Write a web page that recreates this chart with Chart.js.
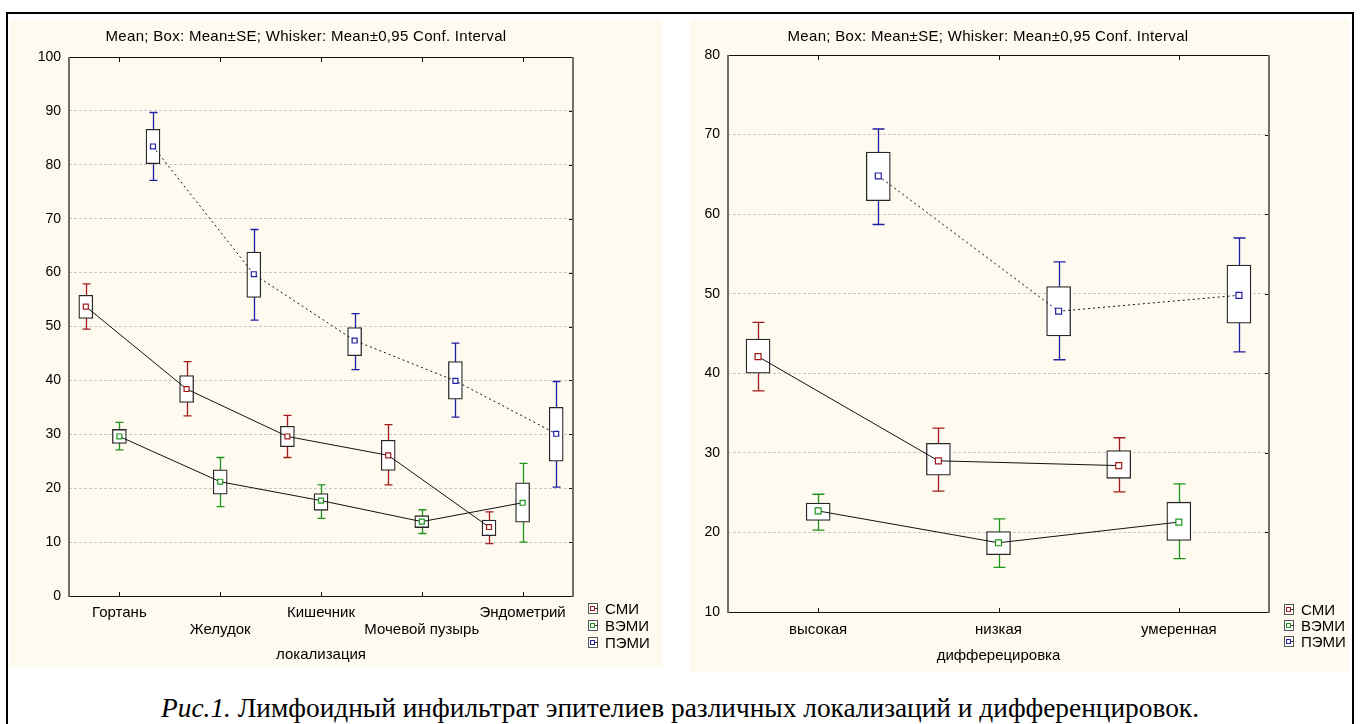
<!DOCTYPE html>
<html><head><meta charset="utf-8">
<script src="https://cdn.jsdelivr.net/npm/chart.js@4.4.1/dist/chart.umd.min.js"></script>
<style>
html,body{margin:0;padding:0;background:#fff;}
body{width:1360px;height:724px;overflow:hidden;position:relative;font-family:"Liberation Sans",Arial,sans-serif;color:#000;}
#outer{position:absolute;left:6px;top:12px;width:1348px;height:740px;border:2px solid #000;box-sizing:border-box;}
.panel{position:absolute;background:#FFFAEF;}
#pl{left:10px;top:19px;width:652px;height:648px;}
#pr{left:690px;top:19px;width:659px;height:654px;}
.panel canvas{position:absolute;left:0;top:0;}
.ttl{position:absolute;font-size:15px;letter-spacing:0.3px;white-space:nowrap;transform:translate(-50%,-50%);}
.lg{position:absolute;font-size:15px;white-space:nowrap;height:17px;line-height:17px;}
.lg .ic{position:absolute;left:0;top:3px;width:10px;height:11px;border:1px solid #555;box-sizing:border-box;background:#fff;}
.lg .ic i{position:absolute;left:1px;top:2px;width:5px;height:5px;border:1px solid;box-sizing:border-box;}
.lg .ic b{position:absolute;left:6px;top:4px;width:3px;height:1px;background:#333;}
.lg span{position:absolute;left:17px;top:0;}
#cap{position:absolute;top:694px;left:0;font-family:"Liberation Serif","Times New Roman",serif;font-size:28px;line-height:28px;white-space:nowrap;transform-origin:0 50%;}
</style>
</head><body>
<div id="outer"></div>
<div class="panel" id="pl"><canvas id="cl" width="652" height="648"></canvas></div>
<div class="panel" id="pr"><canvas id="cr" width="659" height="654"></canvas></div>
<div class="ttl" style="left:306px;top:35px;">Mean; Box: Mean±SE; Whisker: Mean±0,95 Conf. Interval</div>
<div class="ttl" style="left:988px;top:35px;">Mean; Box: Mean±SE; Whisker: Mean±0,95 Conf. Interval</div>
<div id="legL"></div>
<div id="legR"></div>
<div id="cap"><i>Рис.1.</i> Лимфоидный инфильтрат эпителиев различных локализаций и дифференцировок.</div>
<script>
// ---------- DATA ----------
const seriesNames = ['СМИ', 'ВЭМИ', 'ПЭМИ'];

// Left chart: локализация
const locCategories = ['Гортань', 'Желудок', 'Кишечник', 'Мочевой пузырь', 'Эндометрий'];
const locSmiMean = [53.7, 38.4, 29.6, 26.1, 12.8];
const locSmiBox  = [[51.5, 55.8], [35.9, 40.9], [27.7, 31.5], [23.3, 28.9], [11.2, 14.1]];
const locSmiCI   = [[49.5, 57.9], [33.4, 43.5], [25.7, 33.5], [20.6, 31.8], [9.7, 15.6]];
const locVemiMean = [29.6, 21.2, 17.7, 13.8, 17.3];
const locVemiBox  = [[28.3, 30.9], [18.9, 23.4], [15.9, 19.0], [12.7, 14.9], [13.7, 21.0]];
const locVemiCI   = [[27.1, 32.2], [16.6, 25.7], [14.4, 20.6], [11.6, 16.0], [10.0, 24.6]];
const locPemiMean = [83.4, 59.7, 47.4, 39.9, 30.1];
const locPemiBox  = [[80.2, 86.6], [55.4, 63.8], [44.6, 49.8], [36.5, 43.5], [25.0, 35.0]];
const locPemiCI   = [[77.1, 89.7], [51.2, 68.0], [42.0, 52.4], [33.2, 46.9], [20.2, 39.8]];
const locYTicks = [0, 100, 10];

// Right chart: дифферецировка
const difCategories = ['высокая', 'низкая', 'умеренная'];
const difSmiMean = [42.1, 29.0, 28.4];
const difSmiBox  = [[40.0, 44.3], [27.2, 31.2], [26.8, 30.3]];
const difSmiCI   = [[37.8, 46.4], [25.2, 33.1], [25.1, 31.9]];
const difVemiMean = [22.7, 18.7, 21.3];
const difVemiBox  = [[21.5, 23.7], [17.2, 20.1], [19.0, 23.8]];
const difVemiCI   = [[20.3, 24.8], [15.6, 21.7], [16.7, 26.1]];
const difPemiMean = [64.8, 47.8, 49.8];
const difPemiBox  = [[61.7, 67.8], [44.7, 50.9], [46.3, 53.6]];
const difPemiCI   = [[58.7, 70.7], [41.7, 54.0], [42.7, 57.0]];
const difYTicks = [10, 80, 10];

// ---------- STYLE ----------
const FONT = '"Liberation Sans", Arial, sans-serif';
const seriesColors = ['#a31a1a', '#1d951d', '#1f1fa3'];

function makeChart(id, o) {
  const n = o.categories.length;
  const slot = s => (s - 1) / 3;   // series position inside a category
  const datasets = [];
  for (let s = 0; s < 3; s++) {
    datasets.push({
      type: 'line', order: 1, label: seriesNames[s] + ' mean',
      data: o.means[s].map((m, i) => ({ x: i + slot(s), y: m })),
      borderColor: '#111', borderWidth: 1, borderDash: s === 2 ? [2, 3] : [],
      tension: 0, fill: false,
      pointStyle: 'rect', pointRadius: o.markR, pointHoverRadius: o.markR,
      pointBorderColor: seriesColors[s], pointBackgroundColor: '#fff', pointBorderWidth: 1.2
    });
  }
  for (let s = 0; s < 3; s++) {
    datasets.push({
      type: 'bar', order: 2, label: seriesNames[s], grouped: false,
      data: o.boxes[s].map((b, i) => ({ x: i + slot(s), y: b })),
      backgroundColor: '#fff', borderColor: '#262626', borderWidth: 1.3,
      borderSkipped: false, barThickness: o.boxW
    });
  }
  const whiskers = {
    id: 'whiskers',
    beforeDatasetsDraw(chart) {
      const ctx = chart.ctx, y = chart.scales.y;
      for (let s = 0; s < 3; s++) {
        const meta = chart.getDatasetMeta(3 + s);
        meta.data.forEach((el, i) => {
          const lo = o.cis[s][i][0], hi = o.cis[s][i][1];
          const x = Math.round(el.x) + 0.5, cw = o.capW;
          const y1 = y.getPixelForValue(lo), y2 = y.getPixelForValue(hi);
          ctx.save();
          ctx.strokeStyle = seriesColors[s]; ctx.lineWidth = 1.3;
          ctx.beginPath();
          ctx.moveTo(x, y1); ctx.lineTo(x, y2);
          ctx.moveTo(x - cw / 2, y1); ctx.lineTo(x + cw / 2, y1);
          ctx.moveTo(x - cw / 2, y2); ctx.lineTo(x + cw / 2, y2);
          ctx.stroke();
          ctx.restore();
        });
      }
    }
  };
  const frame = {
    id: 'frame',
    afterDraw(chart) {
      const ctx = chart.ctx, a = chart.chartArea, xs = chart.scales.x, ys = chart.scales.y;
      ctx.save();
      ctx.strokeStyle = '#111'; ctx.lineWidth = 1;
      ctx.beginPath();
      ctx.moveTo(a.left, a.top + 0.5); ctx.lineTo(a.right, a.top + 0.5);
      ctx.moveTo(a.left, a.bottom + 0.5); ctx.lineTo(a.right, a.bottom + 0.5);
      for (let i = 0; i < n; i++) {
        const px = Math.round(xs.getPixelForValue(i)) + 0.5;
        ctx.moveTo(px, a.top); ctx.lineTo(px, a.top + 5);
        ctx.moveTo(px, a.bottom); ctx.lineTo(px, a.bottom - 4);
      }
      ys.ticks.forEach(t => {
        const py = Math.round(ys.getPixelForValue(t.value)) + 0.5;
        ctx.moveTo(a.right, py); ctx.lineTo(a.right - 4, py);
      });
      ctx.stroke();
      ctx.strokeStyle = '#6f6f6f'; ctx.lineWidth = 2;
      ctx.beginPath();
      ctx.moveTo(a.left, a.top); ctx.lineTo(a.left, a.bottom + 1);
      ctx.moveTo(a.right, a.top); ctx.lineTo(a.right, a.bottom + 1);
      ctx.stroke();
      ctx.restore();
    }
  };
  return new Chart(document.getElementById(id), {
    type: 'line',
    data: { datasets },
    options: {
      responsive: false, animation: false, devicePixelRatio: 1,
      layout: { padding: { left: 0, top: o.padTop, right: o.padRight, bottom: 0 } },
      plugins: { legend: { display: false }, tooltip: { enabled: false }, title: { display: false } },
      scales: {
        x: {
          type: 'linear', min: -0.5, max: n - 0.5, offset: false,
          grid: { display: false, drawTicks: false, offset: false }, border: { display: false },
          afterBuildTicks(scale) { scale.ticks = o.categories.map((c, i) => ({ value: i })); },
          ticks: {
            color: '#000', font: { family: FONT, size: 15, lineHeight: 17 / 15 },
            padding: o.tickPad, autoSkip: false, maxRotation: 0, minRotation: 0,
            callback(v, i) { const l = o.categories[Math.round(v)]; return (o.stagger && i % 2) ? ['', l] : l; }
          },
          title: { display: true, text: o.axisTitle, color: '#000', font: { family: FONT, size: 15, lineHeight: 17 / 15 }, padding: { top: 0, bottom: o.titlePadB } },
          afterFit(s) { s.height = o.xAxisH; }
        },
        y: {
          type: 'linear', min: o.yTicks[0], max: o.yTicks[1],
          ticks: { stepSize: o.yTicks[2], color: '#000', font: { family: FONT, size: 14 }, padding: 8 },
          grid: { color: '#c8c8c8', lineWidth: 1, drawTicks: false },
          border: { display: false, dash: [3, 2] },
          afterFit(s) { s.width = o.yAxisW; }
        }
      }
    },
    plugins: [whiskers, frame]
  });
}

makeChart('cl', {
  categories: locCategories,
  means: [locSmiMean, locVemiMean, locPemiMean],
  boxes: [locSmiBox, locVemiBox, locPemiBox],
  cis: [locSmiCI, locVemiCI, locPemiCI],
  yTicks: locYTicks, axisTitle: 'локализация', stagger: true,
  padTop: 38, padRight: 89, yAxisW: 59, xAxisH: 71, tickPad: 8.5, titlePadB: 3.5,
  markR: 3.5, boxW: 14, capW: 8
});
makeChart('cr', {
  categories: difCategories,
  means: [difSmiMean, difVemiMean, difPemiMean],
  boxes: [difSmiBox, difVemiBox, difPemiBox],
  cis: [difSmiCI, difVemiCI, difPemiCI],
  yTicks: difYTicks, axisTitle: 'дифферецировка', stagger: false,
  padTop: 36, padRight: 80, yAxisW: 38, xAxisH: 61, tickPad: 9.5, titlePadB: 8.5,
  markR: 4.2, boxW: 24, capW: 12
});

// legends
function legend(elId, x, yCenters) {
  const host = document.getElementById(elId);
  seriesNames.forEach((name, s) => {
    const row = document.createElement('div');
    row.className = 'lg';
    row.style.left = x + 'px';
    row.style.top = (yCenters[s] - 8.5) + 'px';
    row.innerHTML = '<div class="ic"><i style="border-color:' + seriesColors[s] + '"></i><b></b></div><span></span>';
    row.querySelector('span').textContent = name;
    host.appendChild(row);
  });
}
legend('legL', 588, [608, 625, 642]);
legend('legR', 1284, [609, 625, 641]);

// caption fit
const cap = document.getElementById('cap');
const w = cap.getBoundingClientRect().width;
const target = 1038;
cap.style.left = (680 - target / 2) + 'px';
cap.style.transform = 'scaleX(' + (target / w) + ')';
</script>
</body></html>
